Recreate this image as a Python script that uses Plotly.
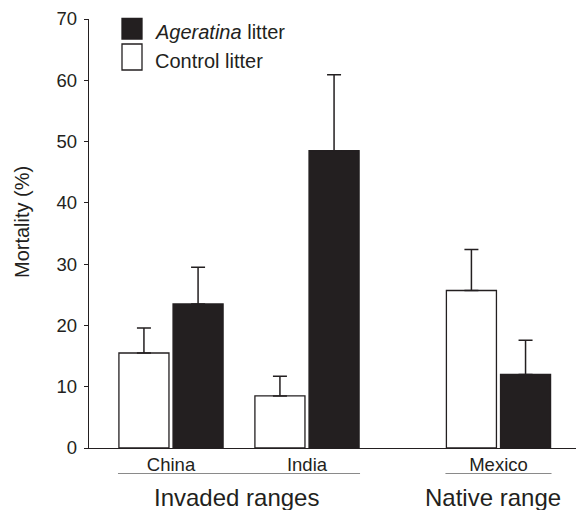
import plotly.graph_objects as go

# ---- data ----
sites = ["China", "India", "Mexico"]
control_mean = [15.5, 8.5, 25.7]
control_err = [4.1, 3.2, 6.7]
ageratina_mean = [23.5, 48.5, 12.0]
ageratina_err = [6.0, 12.4, 5.6]
y_ticks = [0, 10, 20, 30, 40, 50, 60, 70]
range_groups = ["Invaded ranges", "Native range"]
legend_labels = ["<i>Ageratina</i> litter", "Control litter"]

# ---- layout positions (not data) ----
site_pos = [0.0, 1.0, 2.408]
bar_w = 0.368
DARK = "#231f20"
FONT = "Liberation Sans, Arial, Helvetica, sans-serif"

fig = go.Figure()
fig.add_trace(go.Bar(
    x=site_pos, y=control_mean, width=bar_w, offset=-0.383,
    marker=dict(color="white", line=dict(color=DARK, width=1.3)),
    error_y=dict(type="data", array=control_err, arrayminus=[0] * 3, symmetric=False,
                 color=DARK, thickness=1.5, width=7),
    showlegend=False,
))
fig.add_trace(go.Bar(
    x=site_pos, y=ageratina_mean, width=bar_w, offset=0.015,
    marker=dict(color=DARK, line=dict(color=DARK, width=1.3)),
    error_y=dict(type="data", array=ageratina_err, arrayminus=[0] * 3, symmetric=False,
                 color=DARK, thickness=1.5, width=7),
    showlegend=False,
))

W, H = 576, 510
ml, mr, mt, mb = 89, 0, 19, 62
pw, ph = W - ml - mr, H - mt - mb


def px_x(p):
    return (p - ml) / pw


def px_y(p):
    return (H - mb - p) / ph


shapes = []
annotations = []
# group underline
groups_span = [(site_pos[0] - 0.39, site_pos[1] + 0.39), (site_pos[2] - 0.39, site_pos[2] + 0.39)]
group_centers = [px_x(236), px_x(493)]
for (a, b), name, cx in zip(groups_span, range_groups, group_centers):
    shapes.append(dict(type="line", xref="x", yref="paper", x0=a, x1=b,
                       y0=px_y(473.5), y1=px_y(473.5), line=dict(color="#8a8a8a", width=1)))
    annotations.append(dict(text=name, xref="paper", yref="paper", x=cx, y=px_y(497),
                            xanchor="center", yanchor="middle", showarrow=False,
                            font=dict(size=24, color=DARK, family=FONT)))

# manual legend
legend_boxes = [(18.5, 39.0, DARK), (44.0, 70.0, "white")]
legend_text_y = [32, 61]
for (y0, y1, fill), lab, ty in zip(legend_boxes, legend_labels, legend_text_y):
    shapes.append(dict(type="rect", xref="paper", yref="paper",
                       x0=px_x(122), x1=px_x(142), y0=px_y(y1), y1=px_y(y0),
                       fillcolor=fill, line=dict(color=DARK, width=1.3)))
    annotations.append(dict(text=lab, xref="paper", yref="paper", x=px_x(153), y=px_y(ty),
                            xanchor="left", yanchor="middle", showarrow=False,
                            font=dict(size=20, color=DARK, family=FONT)))

# y axis title
annotations.append(dict(text="Mortality (%)", xref="paper", yref="paper", x=px_x(22), y=px_y(222),
                        xanchor="center", yanchor="middle", textangle=-90, showarrow=False,
                        font=dict(size=20, color=DARK, family=FONT)))

fig.update_layout(
    width=W, height=H,
    margin=dict(l=ml, r=mr, t=mt, b=mb, pad=0),
    plot_bgcolor="white", paper_bgcolor="white",
    font=dict(family=FONT, color=DARK),
    shapes=shapes, annotations=annotations,
    xaxis=dict(range=[-0.603, 2.978], tickvals=site_pos, ticktext=sites, ticks="",
               showline=True, linecolor=DARK, linewidth=1.3, showgrid=False, zeroline=False,
               tickfont=dict(size=18.5, color=DARK, family=FONT), fixedrange=True),
    yaxis=dict(range=[0, 70], tickvals=y_ticks, ticks="outside", ticklen=4, tickwidth=1.3,
               tickcolor=DARK, showline=True, linecolor=DARK, linewidth=1.3, showgrid=False,
               zeroline=False, ticklabelstandoff=3,
               tickfont=dict(size=18.5, color=DARK, family=FONT), fixedrange=True),
)

fig.write_html("out.html", config={"displayModeBar": False},
               post_script="document.body.style.margin='0';document.body.style.overflow='hidden';")
